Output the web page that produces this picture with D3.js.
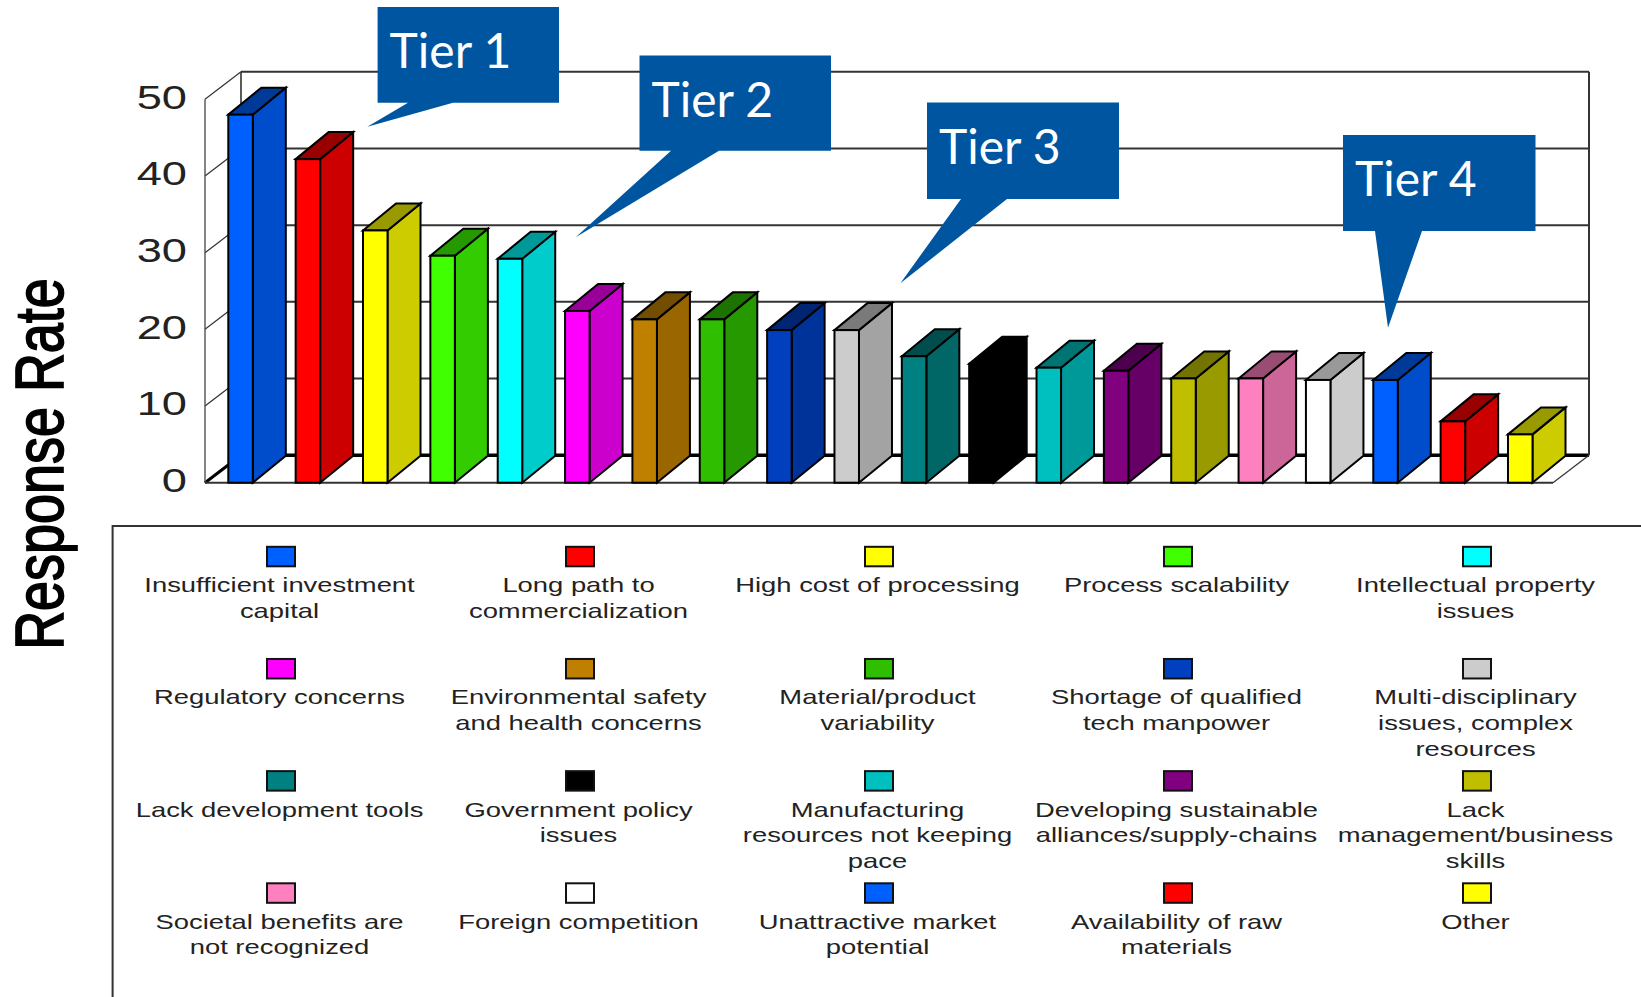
<!DOCTYPE html>
<html>
<head>
<meta charset="utf-8">
<script src="https://cdn.jsdelivr.net/npm/d3@7/dist/d3.min.js"></script>
<style>
html, body { margin: 0; padding: 0; background: #fff; overflow: hidden; }
svg { display: block; }
.legend text, .tick text { font-family: "Liberation Sans", Arial, sans-serif; fill: #222; }
</style>
</head>
<body>
<script>
// Barriers to commercialization, ranked by share of survey responses.
const categories = [
  "Insufficient investment\ncapital", "Long path to\ncommercialization", "High cost of processing",
  "Process scalability", "Intellectual property\nissues", "Regulatory concerns",
  "Environmental safety\nand health concerns", "Material/product\nvariability",
  "Shortage of qualified\ntech manpower", "Multi-disciplinary\nissues, complex\nresources",
  "Lack development tools", "Government policy\nissues", "Manufacturing\nresources not keeping\npace",
  "Developing sustainable\nalliances/supply-chains", "Lack\nmanagement/business\nskills",
  "Societal benefits are\nnot recognized", "Foreign competition", "Unattractive market\npotential",
  "Availability of raw\nmaterials", "Other"
];
const responseRates = [48, 42.2, 32.9, 29.6, 29.2, 22.4, 21.3, 21.3, 19.9, 19.9,
                       16.5, 15.5, 15, 14.6, 13.6, 13.6, 13.4, 13.4, 8, 6.3];
const barColors = [
  "#0060ff", "#ff0000", "#ffff00", "#40ff00", "#00ffff", "#ff00ff", "#bf8000", "#2fbf00", "#0040bf", "#cccccc",
  "#008080", "#000000", "#00bfbf", "#800080", "#bfbf00", "#ff80bf", "#ffffff", "#0060ff", "#ff0000", "#ffff00"
];
const yTicks = [0, 10, 20, 30, 40, 50];
const tierLabels = ["Tier 1", "Tier 2", "Tier 3", "Tier 4"];

const width = 1641, height = 997;
const svg = d3.select("body").append("svg").attr("width", width).attr("height", height);

// Front-plane value scale and category positions of the bar fronts.
const y = d3.scaleLinear().domain([0, 50]).range([482.7, 99.3]);
const x = d3.scaleBand().domain(categories).range([228.3, 1532.5]).paddingInner(0.636).paddingOuter(0);

const wallDx = 36, wallDy = -27.5;   // depth of the chart box
const barDx = 33, barDy = -27;       // depth of a bar
const wallLeft = 205, floorRight = 1553;

function shade(color, k) {
  const c = d3.rgb(color);
  return d3.rgb(c.r * k, c.g * k, c.b * k).formatHex();
}

// Chart box: back wall, left wall, floor.
const box = svg.append("g").attr("fill", "none");
box.selectAll("line.grid").data(yTicks).join("line").attr("class", "grid")
  .attr("x1", wallLeft + wallDx).attr("x2", floorRight + wallDx)
  .attr("y1", d => y(d) + wallDy).attr("y2", d => y(d) + wallDy)
  .attr("stroke", d => d === 0 ? "#000" : "#333")
  .attr("stroke-width", d => d === 0 ? 3.5 : 2);
box.selectAll("line.wall").data(yTicks).join("line").attr("class", "wall")
  .attr("x1", wallLeft).attr("x2", wallLeft + wallDx)
  .attr("y1", d => y(d)).attr("y2", d => y(d) + wallDy)
  .attr("stroke", d => d === 0 ? "#000" : "#333")
  .attr("stroke-width", d => d === 0 ? 3 : 1.2);
box.append("line").attr("x1", wallLeft).attr("x2", wallLeft).attr("y1", y(0)).attr("y2", y(50)).attr("stroke", "#444").attr("stroke-width", 1.3);
box.append("line").attr("x1", wallLeft + wallDx).attr("x2", wallLeft + wallDx).attr("y1", y(0) + wallDy).attr("y2", y(50) + wallDy).attr("stroke", "#333").attr("stroke-width", 1.6);
box.append("line").attr("x1", floorRight + wallDx).attr("x2", floorRight + wallDx).attr("y1", y(0) + wallDy).attr("y2", y(50) + wallDy).attr("stroke", "#333").attr("stroke-width", 2);
box.append("line").attr("x1", wallLeft).attr("x2", floorRight).attr("y1", y(0)).attr("y2", y(0)).attr("stroke", "#333").attr("stroke-width", 2);
box.append("line").attr("x1", floorRight).attr("x2", floorRight + wallDx).attr("y1", y(0)).attr("y2", y(0) + wallDy).attr("stroke", "#333").attr("stroke-width", 1.2);

// Extruded bars: side face, top face and front face.
const bars = svg.append("g").attr("stroke", "#000").attr("stroke-width", 2).attr("stroke-linejoin", "miter")
  .selectAll("g").data(categories).join("g");
const poly = pts => pts.map(p => p.join(",")).join(" ");
bars.append("polygon")
  .attr("points", (d, i) => {
    const r = x(d) + x.bandwidth(), t = y(responseRates[i]), b = y(0);
    return poly([[r, t], [r + barDx, t + barDy], [r + barDx, b + barDy], [r, b]]);
  })
  .attr("fill", (d, i) => shade(barColors[i], 0.8));
bars.append("polygon")
  .attr("points", (d, i) => {
    const l = x(d), r = l + x.bandwidth(), t = y(responseRates[i]);
    return poly([[l, t], [l + barDx, t + barDy], [r + barDx, t + barDy], [r, t]]);
  })
  .attr("fill", (d, i) => shade(barColors[i], 0.6));
bars.append("rect")
  .attr("x", d => x(d)).attr("width", x.bandwidth())
  .attr("y", (d, i) => y(responseRates[i]))
  .attr("height", (d, i) => y(0) - y(responseRates[i]))
  .attr("fill", (d, i) => barColors[i]);

// Value axis labels, widened horizontally.
const yAxis = svg.append("g").attr("transform", "translate(187,0)")
  .call(d3.axisLeft(y).tickValues(yTicks).tickSize(0).tickPadding(0));
yAxis.select(".domain").remove();
yAxis.selectAll("text")
  .attr("x", null).attr("dy", null)
  .attr("font-size", 33).attr("text-anchor", "end")
  .attr("transform", "scale(1.37,1)")
  .attr("dominant-baseline", "middle");

// Axis title, tall and condensed with a heavier stroke.
svg.append("text")
  .attr("transform", "translate(62.7,464) rotate(-90) scale(0.793,1)")
  .attr("text-anchor", "middle")
  .attr("font-family", "'Liberation Sans', Arial, sans-serif")
  .attr("font-size", 68).attr("fill", "#000")
  .attr("stroke", "#000").attr("stroke-width", 1.7)
  .text("Response Rate");

// Legend frame and entries.
svg.append("path").attr("d", "M1641,526H112.6V997").attr("fill", "none").attr("stroke", "#333").attr("stroke-width", 2);
const legendCol = d3.scalePoint().domain(d3.range(5)).range([281, 1477]);
const legendRow = d3.scalePoint().domain(d3.range(4)).range([556.8, 893.3]);
const legend = svg.append("g").attr("class", "legend").selectAll("g").data(categories).join("g")
  .attr("transform", (d, i) => `translate(${legendCol(i % 5)},${legendRow(Math.floor(i / 5))})`);
legend.append("rect").attr("x", -14).attr("y", -10).attr("width", 28).attr("height", 19.5)
  .attr("fill", (d, i) => barColors[i]).attr("stroke", "#111").attr("stroke-width", 2);
legend.each(function (d) {
  d3.select(this).selectAll("text").data(d.split("\n")).join("text")
    .attr("transform", (line, j) => `translate(-1.5,${35.5 + j * 25.6}) scale(1.37,1)`)
    .attr("text-anchor", "middle").attr("font-size", 20).text(line => line);
});

// Tier callouts: box with a pointer towards the bars.
const calloutBoxes = [[377.6, 7, 559, 102.7], [639.5, 55.5, 831, 150.7], [927, 102.6, 1119, 198.9], [1343, 135, 1535.5, 231]];
const calloutTips = [[367.3, 126.7, 408, 453], [575.7, 237.3, 671, 719], [900.4, 283.3, 961, 1007], [1388, 327.7, 1375, 1422]];
const callouts = svg.append("g").selectAll("g").data(tierLabels).join("g");
callouts.append("path").attr("fill", "#0055a0")
  .attr("d", (d, i) => {
    const [l, t, r, b] = calloutBoxes[i], [tx, ty, b1, b2] = calloutTips[i];
    return `M${l},${t}H${r}V${b}H${b2}L${tx},${ty}L${b1},${b}H${l}Z`;
  });
callouts.append("text")
  .attr("x", (d, i) => calloutBoxes[i][0] + 12).attr("y", (d, i) => calloutBoxes[i][1] + 61)
  .attr("font-family", "Lato, Carlito, sans-serif").attr("font-size", 48).attr("fill", "#fff")
  .text(d => d);
</script>
</body>
</html>
